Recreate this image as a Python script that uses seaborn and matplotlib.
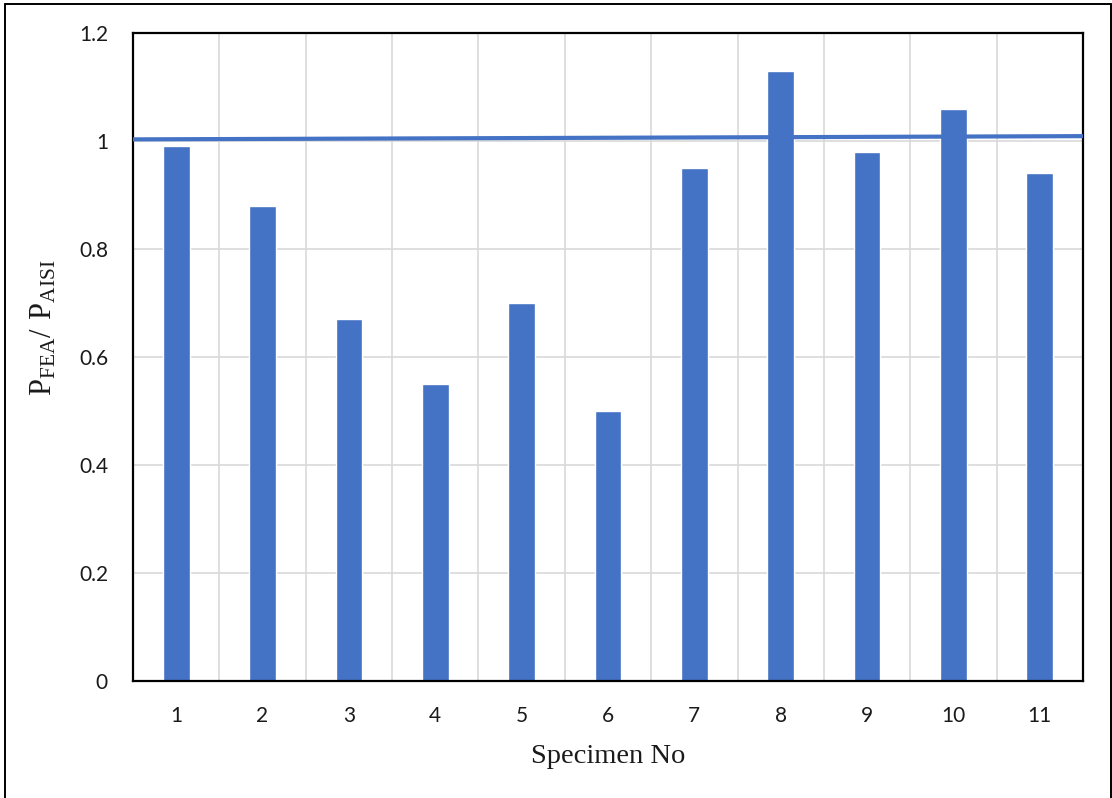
import matplotlib
matplotlib.use("Agg")
import matplotlib.pyplot as plt
from matplotlib.ticker import FixedLocator
from matplotlib.lines import Line2D
import seaborn as sns
import pandas as pd

# Specimen numbers and the FEA / AISI capacity ratio for each
specimens = ["1", "2", "3", "4", "5", "6", "7", "8", "9", "10", "11"]
ratios = [0.99, 0.88, 0.67, 0.55, 0.70, 0.50, 0.95, 1.13, 0.98, 1.06, 0.94]

# Reference line (ratio close to 1) spanning the whole axis
ref_x = [-0.5, 10.5]
ref_y = [1.003, 1.009]

y_ticks = [0, 0.2, 0.4, 0.6, 0.8, 1, 1.2]
y_tick_labels = ["0", "0.2", "0.4", "0.6", "0.8", "1", "1.2"]

BLUE = "#4472C4"
GRID = "#D9D9D9"

sns.set_theme(style="white")
plt.rcParams["font.family"] = ["Lato", "DejaVu Sans"]

df = pd.DataFrame({"Specimen": specimens, "Ratio": ratios})
ref = pd.DataFrame({"x": ref_x, "y": ref_y})

fig = plt.figure(figsize=(11.12, 7.98), dpi=100)
ax = fig.add_axes([133 / 1112, 1 - 681 / 798, (1083 - 133) / 1112, (681 - 33) / 798])

sns.barplot(data=df, x="Specimen", y="Ratio", color=BLUE, width=0.31,
            saturation=1, ax=ax, zorder=2)
sns.lineplot(data=ref, x="x", y="y", color=BLUE, linewidth=3.0, ax=ax, zorder=3)

ax.set_xlim(-0.5, len(specimens) - 0.5)
ax.set_ylim(0, 1.2)
ax.set_yticks(y_ticks)
ax.set_yticklabels(y_tick_labels)

# vertical grid between categories, horizontal grid at major y ticks
ax.xaxis.set_minor_locator(FixedLocator([i + 0.5 for i in range(len(specimens) - 1)]))
ax.grid(axis="y", which="major", color=GRID, linewidth=1.2, zorder=0)
ax.grid(axis="x", which="minor", color=GRID, linewidth=1.2, zorder=0)
ax.set_axisbelow(True)

ax.tick_params(axis="both", which="both", length=0, labelsize=15, colors="#1a1a1a")
ax.tick_params(axis="x", pad=18)
ax.tick_params(axis="y", pad=18)

for s in ax.spines.values():
    s.set_visible(True)
    s.set_color("black")
    s.set_linewidth(1.6)

ax.set_xlabel("Specimen No", fontfamily="Liberation Serif", fontsize=20.5,
              color="#1a1a1a", labelpad=13)
ax.set_ylabel(r"$\mathregular{P_{FEA}/\ P_{AISI}}$", fontfamily="Liberation Serif",
              fontsize=22, color="#1a1a1a")
ax.yaxis.set_label_coords(-0.078, 0.545)

# outer frame of the figure
frame_kw = dict(color="black", linewidth=1.4, transform=fig.transFigure)
fig.add_artist(Line2D([5 / 1112, 5 / 1112], [0, 1 - 4 / 798], **frame_kw))
fig.add_artist(Line2D([5 / 1112, 1110.5 / 1112], [1 - 4 / 798, 1 - 4 / 798], **frame_kw))
fig.add_artist(Line2D([1110.5 / 1112, 1110.5 / 1112], [0, 1 - 4 / 798], **frame_kw))

fig.savefig("out.png", dpi=100, facecolor="white")
